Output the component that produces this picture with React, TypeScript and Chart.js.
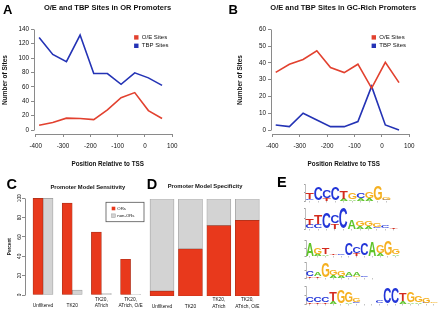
import React, { useEffect, useRef } from "react";
import { Chart, registerables } from "chart.js";

Chart.register(...registerables);

const FONT = "'Liberation Sans', Arial, Helvetica, sans-serif";
Chart.defaults.font.family = FONT;

// ---------------- data: panels A & B ----------------
const tssPositions = [-387.5, -337.5, -287.5, -237.5, -187.5, -137.5, -87.5, -37.5, 12.5, 62.5];
const positionTicks = [-400, -300, -200, -100, 0, 100];
const orOESites = [6.5, 10.5, 16.5, 16, 14.5, 28, 45, 52, 27, 16];
const orTBPSites = [128.5, 105, 95, 132, 78.5, 78.5, 63.5, 79.5, 72.5, 62];
const orSiteTicks = [0, 20, 40, 60, 80, 100, 120, 140];
const gcOESites = [34.3, 39.2, 42, 47.2, 37.2, 34.2, 39.2, 25, 40.3, 28.2];
const gcTBPSites = [3, 2, 10, 6, 2, 2, 5, 26, 3, 0];
const gcSiteTicks = [0, 10, 20, 30, 40, 50, 60];
const seriesNames = ["O/E Sites", "TBP Sites"];

// ---------------- data: panels C & D ----------------
const modelLabels = [["Unfiltered"], ["TK20"], ["TK20,", "ATrich"], ["TK20,", "ATrich, O/E"]];
const groupNames = ["ORs", "non-ORs"];
const sensitivityORs = [100, 95, 65, 37];
const sensitivityNonORs = [100, 5, 1.5, 0.6];
const specificityORs = [5, 48.5, 72.5, 78];
const specificityNonORs = [95, 51.5, 27.5, 22];
const percentTicks = [0, 20, 40, 60, 80, 100];

// ---------------- data: panel E (sequence logos, letters bottom->top, bits) ----------------
const logo1Letters = ["CT", "C", "TC", "C", "AT", "AG", "AC", "AG", "G", "CG"];
const logo1Bits = [[0.2, 0.75], [1.6], [0.3, 0.95], [1.6], [0.3, 0.87], [0.25, 0.8], [0.3, 0.6], [0.3, 0.8], [1.73], [0.15, 0.25]];
const logo2Letters = ["CT", "CT", "C", "TC", "C", "A", "AG", "AG", "CG", "C", "T"];
const logo2Bits = [[0.35, 0.55], [0.45, 0.85], [1.5], [0.55, 0.7], [2.0], [0.9], [0.25, 0.45], [0.3, 0.5], [0.2, 0.4], [0.3], [0.15]];
const logo3Letters = ["A", "AG", "AT", "CT", "C", "C", "TC", "C", "A", "AG", "G", "AG"];
const logo3Bits = [[1.65], [0.3, 0.8], [0.25, 0.85], [0.1, 0.1], [0.15], [1.6], [0.35, 0.75], [1.6], [1.8], [0.3, 0.95], [1.85], [0.25, 0.7]];
const logo4Letters = ["TC", "TA", "G", "AG", "AG", "CA", "GA", "C", "A"];
const logo4Bits = [[0.25, 0.65], [0.25, 0.45], [1.8], [0.35, 0.65], [0.3, 0.6], [0.25, 0.55], [0.2, 0.5], [0.2], [0.05]];
const logo5Letters = ["TC", "TC", "TC", "AT", "G", "AG", "CG", "T", "C", "TC", "C", "C", "AT", "AG", "AG", "CG", "G"];
const logo5Bits = [[0.2, 0.55], [0.2, 0.55], [0.2, 0.6], [0.3, 0.95], [1.55], [0.25, 1.2], [0.2, 0.4], [0.08], [0.1], [0.1, 0.35], [1.8], [1.85], [0.3, 0.9], [0.15, 1.2], [0.2, 0.65], [0.15, 0.55], [0.15]];
const bitTicks = [0, 1, 2];

// ---------------- styles ----------------
const RED_LINE = "#e2412f";
const BLUE_LINE = "#2433b5";
const RED_BAR = "#e8391c";
const RED_BAR_EDGE = "#a8301a";
const GREY_BAR = "#d3d3d3";
const GREY_BAR_EDGE = "#9a9a9a";
const AXIS = "#8a8a8a";
const INK = "#111";
const LETTER_COLORS: Record<string, string> = { A: "#5fc42a", C: "#2235d8", G: "#f5b020", T: "#d42b1e" };

type TextItem = { t: string; x: number; y: number; s: number; b?: boolean; a?: CanvasTextAlign; bl?: CanvasTextBaseline; r?: number; c?: string };
type RectItem = { x: number; y: number; w: number; h: number; f?: string; st?: string; lw?: number };

const px = (v: number) => Math.round(v - 0.5) + 0.5;

function overlay(texts: TextItem[], rects: RectItem[] = []) {
  return {
    id: "overlay",
    afterDraw(chart: any) {
      const ctx: CanvasRenderingContext2D = chart.ctx;
      ctx.save();
      for (const r of rects) {
        if (r.f) {
          ctx.fillStyle = r.f;
          ctx.fillRect(r.x, r.y, r.w, r.h);
        }
        if (r.st) {
          ctx.strokeStyle = r.st;
          ctx.lineWidth = r.lw ?? 1;
          ctx.strokeRect(r.x, r.y, r.w, r.h);
        }
      }
      for (const t of texts) {
        ctx.save();
        ctx.font = `${t.b ? "bold " : ""}${t.s}px ${FONT}`;
        ctx.fillStyle = t.c || INK;
        ctx.textAlign = t.a || "center";
        ctx.textBaseline = t.bl || "middle";
        ctx.translate(t.x, t.y);
        if (t.r) ctx.rotate(t.r);
        ctx.fillText(t.t, 0, 0);
        ctx.restore();
      }
      ctx.restore();
    },
  };
}

function rAxes(xRange: number[] | null, yRange: number[] | null) {
  return {
    id: "rAxes",
    afterDraw(chart: any) {
      const { ctx, chartArea, scales } = chart;
      ctx.save();
      ctx.strokeStyle = AXIS;
      ctx.lineWidth = 1;
      if (xRange) {
        const y = px(chartArea.bottom);
        ctx.beginPath();
        ctx.moveTo(px(scales.x.getPixelForValue(xRange[0])), y);
        ctx.lineTo(px(scales.x.getPixelForValue(xRange[1])), y);
        ctx.stroke();
      }
      if (yRange) {
        const x = px(chartArea.left);
        ctx.beginPath();
        ctx.moveTo(x, px(scales.y.getPixelForValue(yRange[0])));
        ctx.lineTo(x, px(scales.y.getPixelForValue(yRange[1])));
        ctx.stroke();
      }
      ctx.restore();
    },
  };
}

function letterPlugin(letters: string[]) {
  return {
    id: "letters",
    afterDatasetsDraw(chart: any) {
      const ctx: CanvasRenderingContext2D = chart.ctx;
      chart.data.datasets.forEach((_ds: any, di: number) => {
        const meta = chart.getDatasetMeta(di);
        meta.data.forEach((el: any, i: number) => {
          const ch = letters[i] ? letters[i][di] : undefined;
          if (!ch) return;
          const p = el.getProps(["x", "y", "base", "width"], true);
          const top = Math.min(p.y, p.base);
          const h = Math.abs(p.base - p.y);
          if (!isFinite(h) || h <= 0.2) return;
          ctx.save();
          ctx.font = `bold 100px ${FONT}`;
          const m = ctx.measureText(ch);
          const gw = m.actualBoundingBoxLeft + m.actualBoundingBoxRight;
          const gh = m.actualBoundingBoxAscent + m.actualBoundingBoxDescent;
          ctx.translate(p.x - p.width / 2, top);
          ctx.scale(p.width / gw, h / gh);
          ctx.fillStyle = LETTER_COLORS[ch] || "#000";
          ctx.textAlign = "left";
          ctx.textBaseline = "alphabetic";
          ctx.fillText(ch, m.actualBoundingBoxLeft, m.actualBoundingBoxAscent);
          ctx.restore();
        });
      });
    },
  };
}

function ChartBox({ left, top, width, height, make }: { left: number; top: number; width: number; height: number; make: () => any }) {
  const ref = useRef<HTMLCanvasElement>(null);
  useEffect(() => {
    const chart = new Chart(ref.current as HTMLCanvasElement, make());
    return () => chart.destroy();
  }, []);
  return (
    <canvas
      ref={ref}
      width={width}
      height={height}
      style={{ position: "absolute", left, top, width, height, display: "block" }}
    />
  );
}

// ---------------- panels A & B ----------------
function linePanel(cfg: {
  oe: number[];
  tbp: number[];
  yTicks: number[];
  yMin: number;
  yMax: number;
  xMin: number;
  xMax: number;
  left: number;
  right: number;
  texts: TextItem[];
  legendX: number;
}) {
  const H = 172;
  const W = 220;
  const top = 25;
  const bottom = 134;
  const tickFont = { size: 6.3, family: FONT };
  return {
    type: "line",
    data: {
      datasets: [
        {
          label: seriesNames[0],
          data: tssPositions.map((x, i) => ({ x, y: cfg.oe[i] })),
          borderColor: RED_LINE,
          borderWidth: 1.6,
          pointRadius: 0,
          fill: false,
          tension: 0,
        },
        {
          label: seriesNames[1],
          data: tssPositions.map((x, i) => ({ x, y: cfg.tbp[i] })),
          borderColor: BLUE_LINE,
          borderWidth: 1.6,
          pointRadius: 0,
          fill: false,
          tension: 0,
        },
      ],
    },
    options: {
      animation: false,
      responsive: false,
      events: [],
      layout: { padding: { left: 0, top, right: W - cfg.right, bottom: 0 } },
      plugins: { legend: { display: false }, tooltip: { enabled: false }, title: { display: false } },
      scales: {
        x: {
          type: "linear",
          min: cfg.xMin,
          max: cfg.xMax,
          afterBuildTicks: (s: any) => {
            s.ticks = positionTicks.map((v) => ({ value: v }));
          },
          afterFit: (s: any) => {
            s.height = H - bottom;
          },
          grid: { drawOnChartArea: false, drawTicks: true, tickLength: 3, color: AXIS },
          border: { display: false },
          ticks: { padding: 5.5, font: tickFont, color: INK, maxRotation: 0, autoSkip: false },
        },
        y: {
          type: "linear",
          min: cfg.yMin,
          max: cfg.yMax,
          afterBuildTicks: (s: any) => {
            s.ticks = cfg.yTicks.map((v) => ({ value: v }));
          },
          afterFit: (s: any) => {
            s.width = cfg.left;
          },
          grid: { drawOnChartArea: false, drawTicks: true, tickLength: 3, color: AXIS },
          border: { display: false },
          ticks: { padding: 2, font: tickFont, color: INK, autoSkip: false },
        },
      },
    },
    plugins: [
      rAxes([positionTicks[0], positionTicks[positionTicks.length - 1]], [cfg.yTicks[0], cfg.yTicks[cfg.yTicks.length - 1]]),
      overlay(
        [
          ...cfg.texts,
          { t: seriesNames[0], x: cfg.legendX + 5.5, y: 37.3, s: 6, a: "left" },
          { t: seriesNames[1], x: cfg.legendX + 5.5, y: 45.7, s: 6, a: "left" },
        ],
        [
          { x: cfg.legendX - 2.2, y: 35.2, w: 4.4, h: 4.4, f: RED_LINE },
          { x: cfg.legendX - 2.2, y: 43.6, w: 4.4, h: 4.4, f: BLUE_LINE },
        ]
      ),
    ],
  };
}

const makeA = () =>
  linePanel({
    oe: orOESites,
    tbp: orTBPSites,
    yTicks: orSiteTicks,
    yMin: -5.56,
    yMax: 146,
    xMin: -406.2,
    xMax: 109.9,
    left: 34,
    right: 175,
    legendX: 136.3,
    texts: [
      { t: "A", x: 3, y: 13.5, s: 13, b: true, a: "left", bl: "alphabetic", c: "#000" },
      { t: "O/E and TBP Sites in OR Promoters", x: 107.5, y: 7.5, s: 7.5, b: true },
      { t: "Number of Sites", x: 5, y: 80, s: 6.5, b: true, r: -Math.PI / 2 },
      { t: "Position Relative to TSS", x: 107.7, y: 164, s: 6.3, b: true },
    ],
  });

const makeB = () =>
  linePanel({
    oe: gcOESites,
    tbp: gcTBPSites,
    yTicks: gcSiteTicks,
    yMin: -2.38,
    yMax: 62.56,
    xMin: -404.7,
    xMax: 109.9,
    left: 51,
    right: 192,
    legendX: 153.8,
    texts: [
      { t: "B", x: 8.5, y: 13.5, s: 13, b: true, a: "left", bl: "alphabetic", c: "#000" },
      { t: "O/E and TBP Sites in GC-Rich Promoters", x: 123.3, y: 7.5, s: 7.5, b: true },
      { t: "Number of Sites", x: 20, y: 80, s: 6.5, b: true, r: -Math.PI / 2 },
      { t: "Position Relative to TSS", x: 123.8, y: 164, s: 6.3, b: true },
    ],
  });

// ---------------- panel C ----------------
const catFont = { size: 4.8, family: FONT, lineHeight: 1.4 };

const makeC = () => {
  const H = 149;
  const top = 30;
  const bottom = 130;
  return {
    type: "bar",
    data: {
      datasets: [
        {
          label: groupNames[0],
          data: sensitivityORs.map((y, x) => ({ x, y })),
          backgroundColor: RED_BAR,
          borderColor: RED_BAR_EDGE,
          borderWidth: 0.7,
          borderSkipped: false,
          barThickness: 10,
        },
        {
          label: groupNames[1],
          data: sensitivityNonORs.map((y, x) => ({ x, y })),
          backgroundColor: GREY_BAR,
          borderColor: GREY_BAR_EDGE,
          borderWidth: 0.7,
          borderSkipped: false,
          barThickness: 10,
        },
      ],
    },
    options: {
      animation: false,
      responsive: false,
      events: [],
      layout: { padding: { left: 0, top, right: 0, bottom: 0 } },
      plugins: { legend: { display: false }, tooltip: { enabled: false } },
      scales: {
        x: {
          type: "linear",
          min: -0.617,
          max: 3.495,
          offset: false,
          afterBuildTicks: (s: any) => {
            s.ticks = modelLabels.map((_l, i) => ({ value: i }));
          },
          afterFit: (s: any) => {
            s.height = H - bottom;
          },
          grid: { display: false, drawTicks: false, offset: false },
          border: { display: false },
          ticks: {
            callback: (v: number) => modelLabels[v],
            crossAlign: "far",
            padding: 4.3,
            font: catFont,
            color: INK,
            maxRotation: 0,
            autoSkip: false,
          },
        },
        y: {
          type: "linear",
          min: 0,
          max: 103.4,
          afterBuildTicks: (s: any) => {
            s.ticks = percentTicks.map((v) => ({ value: v }));
          },
          afterFit: (s: any) => {
            s.width = 25;
          },
          grid: { drawOnChartArea: false, drawTicks: true, tickLength: 3, color: AXIS },
          border: { display: false },
          ticks: {
            minRotation: 90,
            maxRotation: 90,
            crossAlign: "center",
            padding: -1.2,
            font: { size: 4.8, family: FONT },
            color: INK,
            autoSkip: false,
          },
        },
      },
    },
    plugins: [
      rAxes(null, [percentTicks[0], percentTicks[percentTicks.length - 1]]),
      overlay(
        [
          { t: "C", x: 6.5, y: 24, s: 14.5, b: true, a: "left", bl: "alphabetic", c: "#000" },
          { t: "Promoter Model Sensitivity", x: 87.8, y: 22.7, s: 5.8, b: true },
          { t: "Percent", x: 10, y: 81.7, s: 4.6, b: true, r: -Math.PI / 2 },
          { t: groupNames[0], x: 117.3, y: 43.5, s: 4.3, a: "left" },
          { t: groupNames[1], x: 117.3, y: 50.7, s: 4.3, a: "left" },
        ],
        [
          { x: 106, y: 37.3, w: 38, h: 19.4, st: "#555", lw: 0.8 },
          { x: 111.7, y: 41.7, w: 3.6, h: 3.6, f: RED_BAR },
          { x: 111.7, y: 48.9, w: 3.6, h: 3.6, f: GREY_BAR, st: GREY_BAR_EDGE, lw: 0.5 },
        ]
      ),
    ],
  };
};

// ---------------- panel D ----------------
const makeD = () => {
  const W = 145;
  const H = 149;
  const top = 34;
  const bottom = 131;
  const left = 2.8;
  const right = 116.5;
  return {
    type: "bar",
    data: {
      labels: modelLabels,
      datasets: [
        {
          label: groupNames[0],
          data: specificityORs,
          backgroundColor: RED_BAR,
          borderColor: RED_BAR_EDGE,
          borderWidth: 0.7,
          borderSkipped: false,
          barThickness: 24,
        },
        {
          label: groupNames[1],
          data: specificityNonORs,
          backgroundColor: GREY_BAR,
          borderColor: GREY_BAR_EDGE,
          borderWidth: 0.7,
          borderSkipped: false,
          barThickness: 24,
        },
      ],
    },
    options: {
      animation: false,
      responsive: false,
      events: [],
      layout: { padding: { left, top, right: W - right, bottom: 0 } },
      plugins: { legend: { display: false }, tooltip: { enabled: false } },
      scales: {
        x: {
          stacked: true,
          afterFit: (s: any) => {
            s.height = H - bottom;
          },
          grid: { display: false, drawTicks: false },
          border: { display: false },
          ticks: { crossAlign: "far", padding: 4, font: catFont, color: INK, maxRotation: 0, autoSkip: false },
        },
        y: { stacked: true, display: false, min: 0, max: 100 },
      },
    },
    plugins: [
      overlay([
        { t: "D", x: 1.7, y: 24, s: 14.5, b: true, a: "left", bl: "alphabetic", c: "#000" },
        { t: "Promoter Model Specificity", x: 60, y: 21.7, s: 5.8, b: true },
        { t: "E", x: 132, y: 21.8, s: 14.5, b: true, a: "left", bl: "alphabetic", c: "#000" },
      ]),
    ],
  };
};

// ---------------- panel E ----------------
const logoFrames = [
  { letters: logo1Letters, bits: logo1Bits, baseline: 201, ppb: 8.25, colW: 8.5, left: 305.5 },
  { letters: logo2Letters, bits: logo2Bits, baseline: 228.5, ppb: 10.5, colW: 8.4, left: 305.5 },
  { letters: logo3Letters, bits: logo3Bits, baseline: 256, ppb: 8, colW: 7.8, left: 306 },
  { letters: logo4Letters, bits: logo4Bits, baseline: 277.5, ppb: 8, colW: 7.8, left: 306 },
  { letters: logo5Letters, bits: logo5Bits, baseline: 303.5, ppb: 9, colW: 7.75, left: 306 },
];
const LOGO_LEFT = 296;
const LOGO_W = 144;
const LOGO_H = 28;
const LOGO_BASE = 22;

function makeLogo(f: (typeof logoFrames)[number]) {
  return () => {
    const n = f.letters.length;
    const levels = Math.max(...f.bits.map((b) => b.length));
    const areaLeft = f.left - LOGO_LEFT;
    const areaRight = areaLeft + n * f.colW;
    const datasets = [];
    for (let j = 0; j < levels; j++) {
      datasets.push({
        data: f.bits.map((b) => (b[j] === undefined ? null : b[j])),
        backgroundColor: "rgba(0,0,0,0)",
        borderWidth: 0,
        barPercentage: 0.96,
        categoryPercentage: 1,
      });
    }
    return {
      type: "bar",
      data: { labels: f.letters.map((_l, i) => String(i + 1)), datasets },
      options: {
        animation: false,
        responsive: false,
        events: [],
        layout: { padding: { left: 0, top: LOGO_BASE - 2 * f.ppb, right: LOGO_W - areaRight, bottom: 0 } },
        plugins: { legend: { display: false }, tooltip: { enabled: false } },
        scales: {
          x: {
            stacked: true,
            afterFit: (s: any) => {
              s.height = LOGO_H - LOGO_BASE;
            },
            grid: { drawOnChartArea: false, drawTicks: true, tickLength: 1.5, color: "#c4c4c4", offset: false },
            border: { display: false },
            ticks: { display: false },
          },
          y: {
            stacked: true,
            min: 0,
            max: 2,
            afterBuildTicks: (s: any) => {
              s.ticks = bitTicks.map((v) => ({ value: v }));
            },
            afterFit: (s: any) => {
              s.width = areaLeft;
            },
            grid: { drawOnChartArea: false, drawTicks: true, tickLength: 1.5, color: "#a0a0a0" },
            border: { display: true, color: "#a0a0a0", width: 0.7 },
            ticks: { display: false },
          },
        },
      },
      plugins: [letterPlugin(f.letters)],
    };
  };
}

export default function App() {
  return (
    <div
      style={{
        position: "fixed",
        left: 0,
        top: 0,
        width: 440,
        height: 314,
        background: "#fff",
        overflow: "hidden",
      }}
    >
      <ChartBox left={0} top={0} width={220} height={172} make={makeA} />
      <ChartBox left={220} top={0} width={220} height={172} make={makeB} />
      <ChartBox left={0} top={165} width={147} height={149} make={makeC} />
      <ChartBox left={145} top={165} width={145} height={149} make={makeD} />
      {logoFrames.map((f, i) => (
        <ChartBox key={i} left={LOGO_LEFT} top={f.baseline - LOGO_BASE} width={LOGO_W} height={LOGO_H} make={makeLogo(f)} />
      ))}
    </div>
  );
}
